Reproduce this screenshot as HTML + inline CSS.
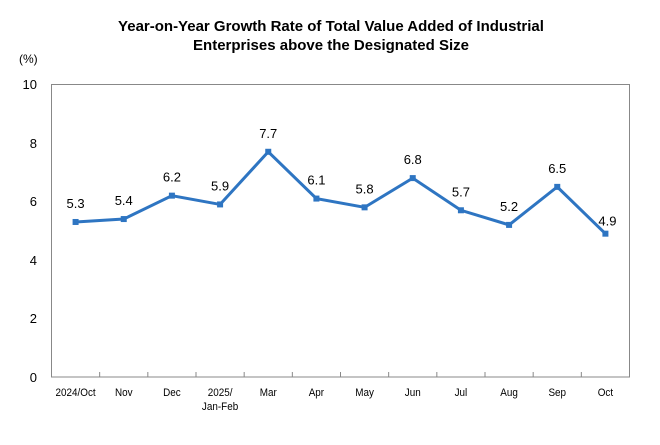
<!DOCTYPE html><html><head><style>body{margin:0;background:#fff}</style></head><body>
<svg width="660" height="440" xmlns="http://www.w3.org/2000/svg" font-family="Liberation Sans, Arial, sans-serif">
<text x="331" y="31" text-anchor="middle" font-size="15" font-weight="bold">Year-on-Year Growth Rate of Total Value Added of Industrial</text>
<text x="331" y="50" text-anchor="middle" font-size="15" font-weight="bold">Enterprises above the Designated Size</text>
<text x="19" y="63" font-size="12">(%)</text>
<rect x="51.5" y="84.5" width="578" height="292.5" fill="none" stroke="#888" stroke-width="1"/>
<g font-size="13" text-anchor="end">
<text x="37" y="89">10</text><text x="37" y="148">8</text><text x="37" y="206">6</text><text x="37" y="265">4</text><text x="37" y="323">2</text><text x="37" y="382">0</text>
</g>
<script>
var s=document.querySelector('svg'),ns='http://www.w3.org/2000/svg';
function el(n,a,t){var e=document.createElementNS(ns,n);for(var k in a)e.setAttribute(k,a[k]);if(t)e.textContent=t;s.appendChild(e);return e;}
var v=[5.3,5.4,6.2,5.9,7.7,6.1,5.8,6.8,5.7,5.2,6.5,4.9];
var lab=['2024/Oct','Nov','Dec','2025/','Mar','Apr','May','Jun','Jul','Aug','Sep','Oct'];
var w=578/12,pts=[];
for(var i=1;i<12;i++){var x=51.5+i*w;el('line',{x1:x,x2:x,y1:377,y2:372,stroke:'#888'});}
for(var i=0;i<12;i++){var x=51.5+(i+0.5)*w,y=377-v[i]*29.25;pts.push(x+','+y);
el('text',{x:x,y:396,'font-size':11,'text-anchor':'middle',transform:'translate('+(x*0.1)+',0) scale(0.9,1)'},lab[i]);
if(i==3)el('text',{x:x,y:410,'font-size':11,'text-anchor':'middle',transform:'translate('+(x*0.1)+',0) scale(0.9,1)'},'Jan-Feb');
el('text',{x:x+(i==11?2:0),y:y-(i==11?8:14),'font-size':13,'text-anchor':'middle'},v[i].toFixed(1));}
el('polyline',{points:pts.join(' '),fill:'none',stroke:'#2e75c2','stroke-width':3,'stroke-linejoin':'miter'});
pts.forEach(function(p){var q=p.split(',');el('rect',{x:q[0]-3,y:q[1]-3,width:6,height:6,fill:'#2e75c2'});});
</script>
</svg></body></html>
